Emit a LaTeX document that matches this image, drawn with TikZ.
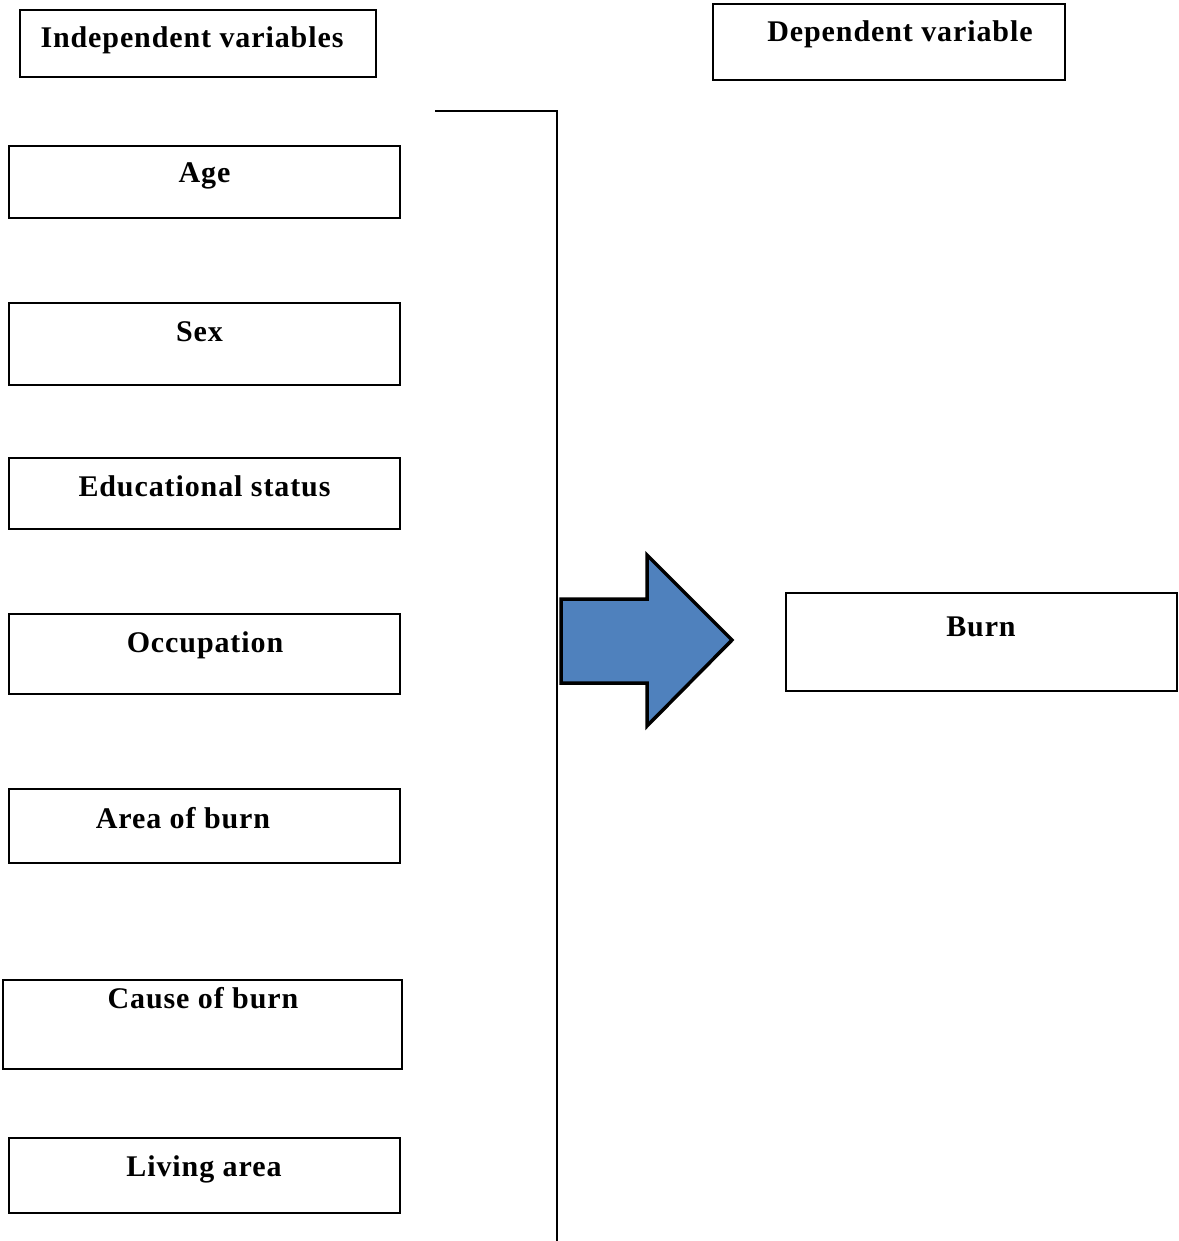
\documentclass[tikz,border=0pt]{standalone}
\usepackage{fontspec}
\setmainfont{Liberation Serif}
\newfontfamily\lblfont[LetterSpace=3]{Liberation Serif}
\definecolor{arrowblue}{HTML}{4F81BD}
\begin{document}
\begin{tikzpicture}[x=1pt,y=-1pt,
  box/.style={draw=black,line width=1.4pt,rectangle,inner sep=0pt},
  lbl/.style={font=\lblfont\fontsize{30}{33}\selectfont\bfseries,inner sep=0pt,anchor=base}]
\useasboundingbox (0,0) rectangle (1178,1241);
% header boxes
\node[box,minimum width=356pt,minimum height=67pt] (indep) at (198,43.5) {};
\node[lbl] (indept) at (192,48) {Independent variables};
\node[box,minimum width=352pt,minimum height=76pt] (dep) at (889,42) {};
\node[lbl] (dept) at (900,42) {Dependent variable};
% divider
\coordinate (d1) at (435,111);
\coordinate (d2) at (557,111);
\coordinate (d3) at (557,1241);
\draw[line width=1.4pt] (d1) -- (d2) -- (d3);
% variable boxes
\node[box,minimum width=391pt,minimum height=72pt] (age) at (204.5,182) {};
\node[lbl] (aget) at (204.5,183) {Age};
\node[box,minimum width=391pt,minimum height=82pt] (sex) at (204.5,344) {};
\node[lbl] (sext) at (199.5,341) {Sex};
\node[box,minimum width=391pt,minimum height=71pt] (edu) at (204.5,493.5) {};
\node[lbl] (edut) at (204.5,496) {Educational status};
\node[box,minimum width=391pt,minimum height=80pt] (occ) at (204.5,654) {};
\node[lbl] (occt) at (205,652) {Occupation};
\node[box,minimum width=391pt,minimum height=74pt] (area) at (204.5,826) {};
\node[lbl] (areat) at (183,828) {Area of burn};
\node[box,minimum width=399pt,minimum height=89pt] (cause) at (202.5,1024.5) {};
\node[lbl] (causet) at (203,1008) {Cause of burn};
\node[box,minimum width=391pt,minimum height=75pt] (living) at (204.5,1175.5) {};
\node[lbl] (livingt) at (204,1176) {Living area};
% outcome
\node[box,minimum width=391pt,minimum height=98pt] (burn) at (981.5,642) {};
\node[lbl] (burnt) at (981,636) {Burn};
% block arrow
\draw[line width=3.5pt,fill=arrowblue,line join=miter]
  (561,599) -- (647,599) -- (647,555) -- (732,640) -- (647,726) -- (647,683) -- (561,683) -- cycle;
\end{tikzpicture}
\end{document}
